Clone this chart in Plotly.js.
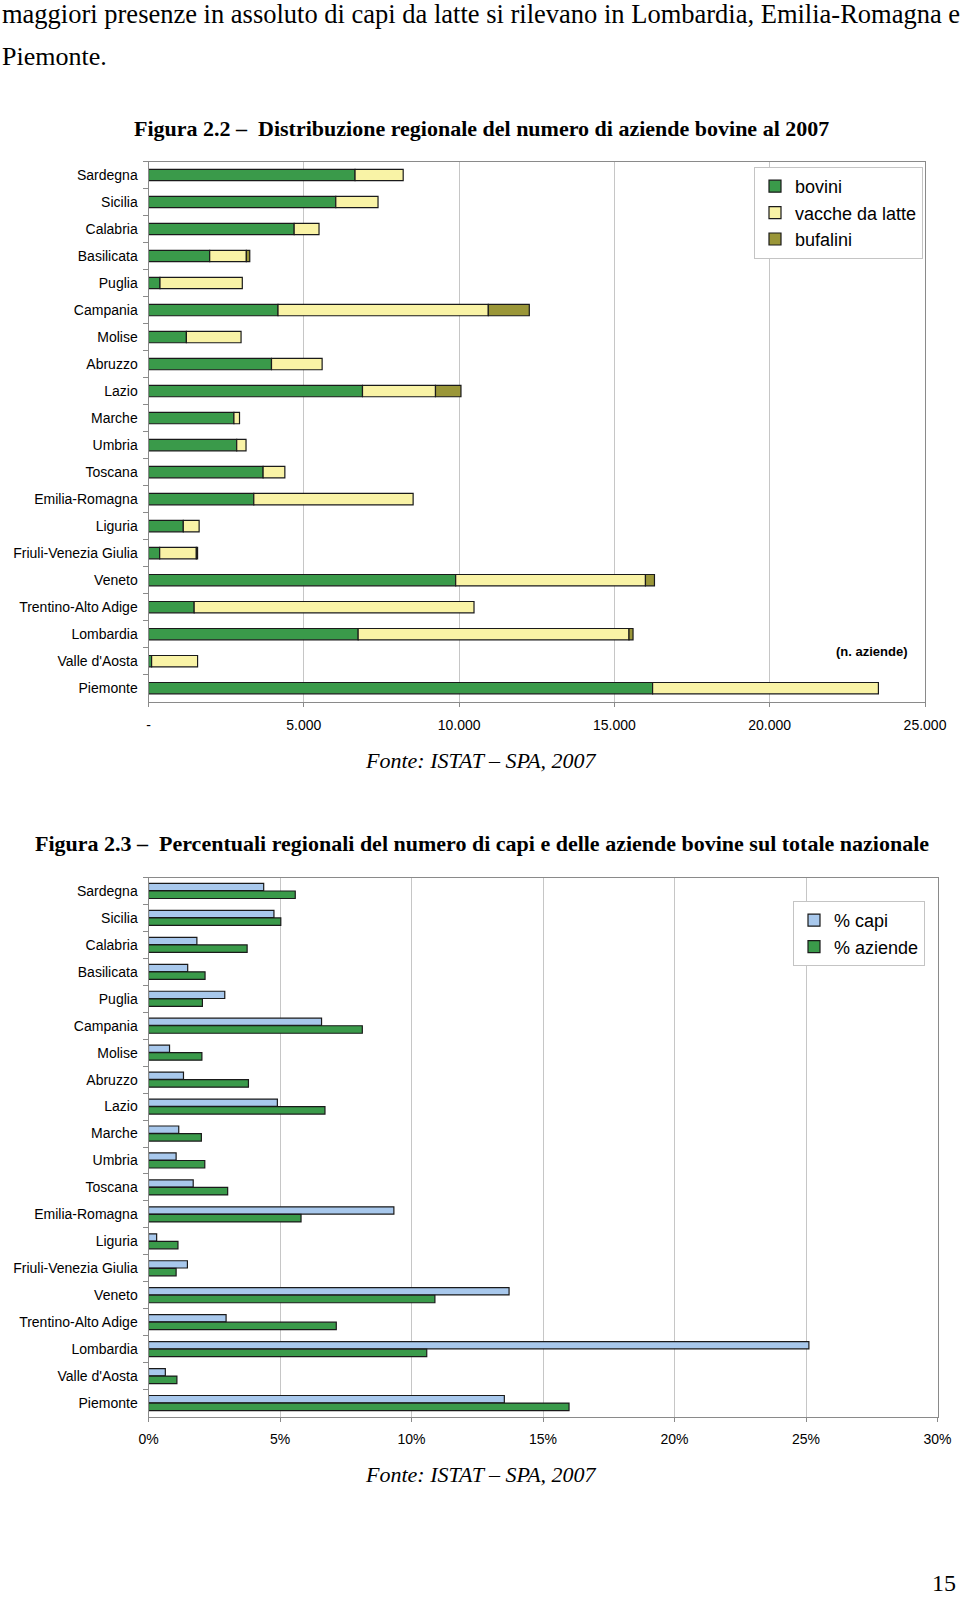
<!DOCTYPE html>
<html>
<head>
<meta charset="utf-8">
<script src="https://cdn.plot.ly/plotly-3.0.1.min.js"></script>
<style>
html,body{margin:0;padding:0;background:#ffffff;}
#chart{width:960px;height:1597px;}
</style>
</head>
<body>
<div id="chart"></div>
<script>
// ---------- DATA ----------
const regions = ['Sardegna','Sicilia','Calabria','Basilicata','Puglia','Campania','Molise','Abruzzo','Lazio','Marche','Umbria','Toscana','Emilia-Romagna','Liguria','Friuli-Venezia Giulia','Veneto','Trentino-Alto Adige','Lombardia',"Valle d'Aosta",'Piemonte'];

// Figura 2.2 - n. aziende (stacked segments)
const bovini   = [6650, 6030, 4690, 1970,  370, 4170, 1220, 3960, 6890, 2750, 2840, 3690, 3390, 1120,  360, 9890, 1470, 6750,  100, 16230];
const vacche   = [1550, 1360,  800, 1180, 2650, 6770, 1760, 1630, 2350,  180,  300,  700, 5130,  510, 1180, 6110, 9010, 8720, 1480,  7270];
const bufalini = [   0,    0,    0,  110,    0, 1320,    0,    0,  820,    0,    0,    0,    0,    0,   40,  290,    0,  130,    0,     0];

const xTickVals1 = [0, 5000, 10000, 15000, 20000, 25000];
const xTickText1 = ['-', '5.000', '10.000', '15.000', '20.000', '25.000'];

// Figura 2.3 - percentuali
const pctCapi    = [4.38, 4.77, 1.84, 1.49, 2.90, 6.58, 0.80, 1.33, 4.90, 1.15, 1.05, 1.70, 9.33, 0.31, 1.48, 13.71, 2.95, 25.11, 0.64, 13.53];
const pctAziende = [5.58, 5.03, 3.75, 2.15, 2.05, 8.13, 2.03, 3.80, 6.71, 2.01, 2.14, 3.01, 5.80, 1.12, 1.05, 10.89, 7.14, 10.58, 1.08, 15.99];

// ---------- STYLE / GEOMETRY ----------
const W = 960, H = 1597;
const px = x => x / W;
const py = y => 1 - y / H;

const GREEN = '#3a9a4a';
const YELLOW = '#f9f3a6';
const OLIVE = '#9a9638';
const BLUE = '#a8c8ec';
const EDGE = '#1a1a1a';
const AXIS = '#8a8a8a';
const GRID = '#c6c6c6';
const SANS = 'Liberation Sans, Arial, sans-serif';
const SERIF = 'Liberation Serif, Times New Roman, serif';

const base2 = bovini.map((v, i) => v + vacche[i]);
const bufaliniShown = bufalini.map(v => v > 0 ? v : null);

const barLine = {color: EDGE, width: 1.2};

const traces = [
  {type:'bar', orientation:'h', y: regions, x: bovini, name:'bovini', xaxis:'x', yaxis:'y',
   width:0.42, marker:{color:GREEN, line:barLine}, legend:'legend', hoverinfo:'skip'},
  {type:'bar', orientation:'h', y: regions, x: vacche, base: bovini, name:'vacche da latte', xaxis:'x', yaxis:'y',
   width:0.42, marker:{color:YELLOW, line:barLine}, legend:'legend', hoverinfo:'skip'},
  {type:'bar', orientation:'h', y: regions, x: bufaliniShown, base: base2, name:'bufalini', xaxis:'x', yaxis:'y',
   width:0.42, marker:{color:OLIVE, line:barLine}, legend:'legend', hoverinfo:'skip'},
  {type:'bar', orientation:'h', y: regions, x: pctCapi, name:'% capi', xaxis:'x2', yaxis:'y2',
   width:0.27, offset:-0.28, marker:{color:BLUE, line:barLine}, legend:'legend2', hoverinfo:'skip'},
  {type:'bar', orientation:'h', y: regions, x: pctAziende, name:'% aziende', xaxis:'x2', yaxis:'y2',
   width:0.28, offset:0.0, marker:{color:GREEN, line:barLine}, legend:'legend2', hoverinfo:'skip'}
];

const tickFont = {family: SANS, size: 14, color: '#000'};

function xAxis(domain, range, extra) {
  return Object.assign({
    domain: domain, range: range, showgrid: true, gridcolor: GRID, gridwidth: 1,
    zeroline: false, showline: true, linecolor: AXIS, linewidth: 1, mirror: true,
    ticks: 'outside', ticklen: 4, tickcolor: AXIS, tickwidth: 1,
    tickfont: tickFont, ticklabelstandoff: 6, fixedrange: true
  }, extra);
}
function yAxis(domain) {
  return {
    domain: domain, type: 'category', range: [19.5, -0.5], showgrid: false,
    zeroline: false, showline: true, linecolor: AXIS, linewidth: 1, mirror: true,
    ticks: 'outside', ticklen: 5, tickcolor: AXIS, tickwidth: 1, tickson: 'boundaries',
    tickfont: tickFont, ticklabelstandoff: 7, fixedrange: true
  };
}

const legendBase = {
  bgcolor: '#ffffff', bordercolor: '#c4c4c4', borderwidth: 1,
  font: {family: SANS, size: 18, color: '#000'},
  traceorder: 'normal', xanchor: 'left', yanchor: 'top',
  itemclick: false, itemdoubleclick: false
};

const ann = (text, x, y, font, xanchor) => ({
  text: text, x: px(x), y: py(y), xref: 'paper', yref: 'paper',
  xanchor: xanchor || 'center', yanchor: 'middle', showarrow: false, font: font
});

const layout = {
  width: W, height: H,
  margin: {l: 0, r: 0, t: 0, b: 0},
  paper_bgcolor: '#ffffff', plot_bgcolor: '#ffffff',
  barmode: 'overlay',
  showlegend: true,
  xaxis: xAxis([px(148.5), px(925)], [0, 25000], {anchor: 'y', tickmode: 'array', tickvals: xTickVals1, ticktext: xTickText1}),
  yaxis: Object.assign(yAxis([py(701.7), py(161.5)]), {anchor: 'x'}),
  xaxis2: xAxis([px(148.5), px(937.5)], [0, 30], {anchor: 'y2', tickmode: 'linear', tick0: 0, dtick: 5, ticksuffix: '%'}),
  yaxis2: Object.assign(yAxis([py(1416.5), py(877.5)]), {anchor: 'x2'}),
  legend: Object.assign({}, legendBase, {x: px(754), y: py(167)}),
  legend2: Object.assign({}, legendBase, {x: px(793), y: py(901)}),
  annotations: [
    ann('maggiori presenze in assoluto di capi da latte si rilevano in Lombardia, Emilia-Romagna e', 0, 14,
        {family: SERIF, size: 26.5, color: '#000'}, 'left'),
    ann('Piemonte.', 0, 56, {family: SERIF, size: 26, color: '#000'}, 'left'),
    ann('<b>Figura 2.2 –  Distribuzione regionale del numero di aziende bovine al 2007</b>', 481, 129,
        {family: SERIF, size: 22, color: '#000'}),
    ann('<b>(n. aziende)</b>', 872, 651.5, {family: SANS, size: 13, color: '#000'}),
    ann('<i>Fonte: ISTAT – SPA, 2007</i>', 481, 760, {family: SERIF, size: 22, color: '#000'}),
    ann('<b>Figura 2.3 –  Percentuali regionali del numero di capi e delle aziende bovine sul totale nazionale</b>', 481.5, 843,
        {family: SERIF, size: 22, color: '#000'}),
    ann('<i>Fonte: ISTAT – SPA, 2007</i>', 481, 1474, {family: SERIF, size: 22, color: '#000'}),
    ann('15', 958, 1583, {family: SERIF, size: 24, color: '#000'}, 'right')
  ]
};

Plotly.newPlot('chart', traces, layout, {staticPlot: true, displayModeBar: false});
</script>
</body>
</html>
